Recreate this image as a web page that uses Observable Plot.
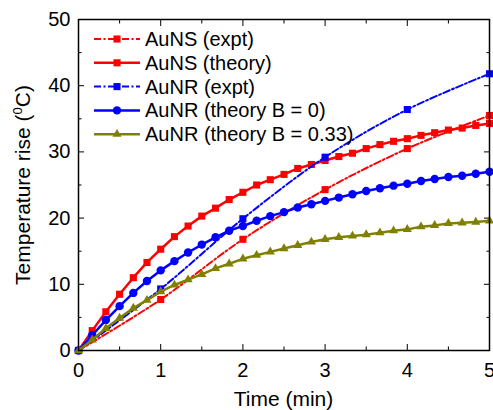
<!DOCTYPE html>
<html><head><meta charset="utf-8">
<script src="https://cdn.jsdelivr.net/npm/d3@7"></script>
<script src="https://cdn.jsdelivr.net/npm/@observablehq/plot@0.6"></script>
<style>body{margin:0;background:#fff;} svg{overflow:visible;}</style>
</head><body><div id="chart"></div>
<script>
// ---- data ----
const exptTime = [0, 1, 2, 3, 4, 5];
const aunsExpt = [0, 7.7, 16.8, 24.3, 30.5, 35.5];
const aunrExpt = [0, 9.3, 19.9, 29.2, 36.4, 41.8];

const theoryTime = [0, 0.167, 0.333, 0.5, 0.667, 0.833, 1, 1.167, 1.333, 1.5, 1.667, 1.833, 2, 2.167, 2.333, 2.5, 2.667, 2.833, 3, 3.167, 3.333, 3.5, 3.667, 3.833, 4, 4.167, 4.333, 4.5, 4.667, 4.833, 5];
const aunsTheory = [0, 3.0, 5.85, 8.5, 11.0, 13.3, 15.3, 17.2, 18.8, 20.3, 21.5, 22.8, 23.9, 25.0, 25.8, 26.6, 27.5, 28.1, 28.7, 29.3, 29.8, 30.5, 31.1, 31.6, 32.0, 32.5, 32.9, 33.3, 33.6, 34.0, 34.3];
const aunrTheoryB0 = [0, 2.3, 4.6, 6.7, 8.7, 10.5, 12.1, 13.5, 14.8, 16.0, 17.1, 18.1, 18.8, 19.6, 20.3, 20.9, 21.6, 22.1, 22.6, 23.1, 23.6, 24.1, 24.5, 24.9, 25.2, 25.6, 25.9, 26.2, 26.4, 26.7, 27.0];
const aunrTheoryB033 = [0, 1.6, 3.35, 4.9, 6.4, 7.6, 8.9, 9.9, 10.7, 11.5, 12.4, 13.1, 13.85, 14.4, 14.9, 15.4, 15.9, 16.4, 16.8, 17.1, 17.3, 17.5, 17.8, 18.1, 18.3, 18.7, 18.9, 19.2, 19.3, 19.4, 19.6];

const seriesNames = ["AuNS (expt)", "AuNS (theory)", "AuNR (expt)", "AuNR (theory B = 0)", "AuNR (theory B = 0.33)"];

const xMajor = [0, 1, 2, 3, 4, 5];
const xMinor = [0.5, 1.5, 2.5, 3.5, 4.5];
const yMajor = [0, 10, 20, 30, 40, 50];
const yMinor = [5, 15, 25, 35, 45];

// ---- styles ----
const DASH = "7,2.5,2,2.5";
const series = [
  {name: seriesNames[0], t: exptTime, v: aunsExpt, color: "#ff0000", dash: DASH, symbol: "square", r: 4, sw: 2, curve: "catmull-rom"},
  {name: seriesNames[1], t: theoryTime, v: aunsTheory, color: "#ff0000", dash: null, symbol: "square", r: 4, sw: 2.5, curve: "linear"},
  {name: seriesNames[2], t: exptTime, v: aunrExpt, color: "#0000ff", dash: DASH, symbol: "square", r: 4, sw: 2, curve: "catmull-rom"},
  {name: seriesNames[3], t: theoryTime, v: aunrTheoryB0, color: "#0000ff", dash: null, symbol: "circle", r: 4.2, sw: 2.5, curve: "linear"},
  {name: seriesNames[4], t: theoryTime, v: aunrTheoryB033, color: "#808000", dash: null, symbol: "triangle", r: 3.4, sw: 2.5, curve: "linear"}
];
const tables = series.map(s => s.t.map((t, i) => ({t, v: s.v[i]})));

const FONT = "'Liberation Sans', Arial, sans-serif";

const marks = [];
series.forEach((s, k) => {
  marks.push(Plot.line(tables[k], {x: "t", y: "v", stroke: s.color, strokeWidth: s.sw, strokeDasharray: s.dash, curve: s.curve}));
  marks.push(Plot.dot(tables[k], {x: "t", y: "v", fill: s.color, symbol: s.symbol, r: s.r}));
});

const chart = Plot.plot({
  width: 493, height: 410,
  marginLeft: 78, marginRight: 4, marginTop: 19, marginBottom: 60,
  style: {fontFamily: FONT, background: "white", color: "black"},
  x: {domain: [0, 5]},
  y: {domain: [0, 50]},
  marks: [
    // inward ticks, all four sides
    Plot.axisX(xMajor, {anchor: "bottom", tickSize: 6, dy: -6, fill: "none", label: null}),
    Plot.axisX(xMinor, {anchor: "bottom", tickSize: 3.5, dy: -3.5, fill: "none", label: null}),
    Plot.axisX(xMajor, {anchor: "top", tickSize: 6, dy: 6, fill: "none", label: null}),
    Plot.axisX(xMinor, {anchor: "top", tickSize: 3.5, dy: 3.5, fill: "none", label: null}),
    Plot.axisY(yMajor, {anchor: "left", tickSize: 6, dx: 6, fill: "none", label: null}),
    Plot.axisY(yMinor, {anchor: "left", tickSize: 3.5, dx: 3.5, fill: "none", label: null}),
    Plot.axisY(yMajor, {anchor: "right", tickSize: 6, dx: -6, fill: "none", label: null}),
    Plot.axisY(yMinor, {anchor: "right", tickSize: 3.5, dx: -3.5, fill: "none", label: null}),
    // tick labels
    Plot.axisX(xMajor, {anchor: "bottom", tickSize: 0, tickPadding: 12, fontSize: 20, label: null}),
    Plot.axisY(yMajor, {anchor: "left", tickSize: 0, tickPadding: 8, fontSize: 20, label: null}),
    ...marks,
    Plot.frame({stroke: "black", strokeWidth: 1.5})
  ]
});

const svg = d3.select(chart);
// axis titles
svg.append("text")
  .attr("x", 283.5).attr("y", 406)
  .attr("text-anchor", "middle")
  .attr("font-family", FONT).attr("font-size", 21).attr("fill", "black")
  .text("Time (min)");
const yl = svg.append("text")
  .attr("transform", "translate(30,185) rotate(-90)")
  .attr("text-anchor", "middle")
  .attr("font-family", FONT).attr("font-size", 21).attr("fill", "black");
yl.append("tspan").text("Temperature rise (");
yl.append("tspan").attr("font-size", 13).attr("dy", -8).text("0");
yl.append("tspan").attr("dy", 8).text("C)");

// legend
const lg = svg.append("g").attr("font-family", FONT).attr("font-size", 20).attr("text-anchor", "start");
series.forEach((s, i) => {
  const y = 39 + i * 23.8;
  lg.append("line").attr("x1", 94).attr("x2", 140).attr("y1", y).attr("y2", y)
    .attr("stroke", s.color).attr("stroke-width", s.sw)
    .attr("stroke-dasharray", s.dash);
  const sym = {square: d3.symbolSquare, circle: d3.symbolCircle, triangle: d3.symbolTriangle}[s.symbol];
  lg.append("path").attr("d", d3.symbol(sym, Math.PI * s.r * s.r)())
    .attr("transform", `translate(117,${y})`).attr("fill", s.color);
  lg.append("text").attr("x", 145).attr("y", y).attr("dy", "0.35em")
    .attr("text-anchor", "start").attr("fill", "black").text(s.name);
});

document.getElementById("chart").appendChild(chart);
</script>
</body></html>
